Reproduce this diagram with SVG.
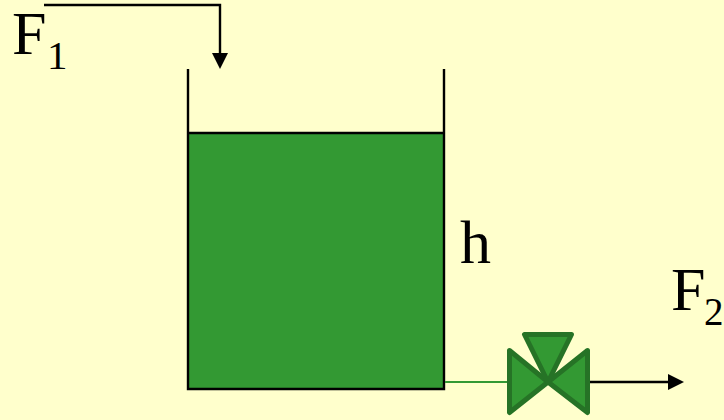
<svg xmlns="http://www.w3.org/2000/svg" width="724" height="420" viewBox="0 0 724 420">
<style>
.t{font-family:"Liberation Serif","Times New Roman",serif;fill:#000}
.m{font-size:62px}.s{font-size:41px}
.l{fill:none;stroke:#000;stroke-width:2.4}
.v{fill:#339933;stroke:#267326;stroke-width:5;stroke-linejoin:round}
</style>
<rect width="724" height="420" fill="#ffffcc"/>
<g id="tank">
<rect x="188" y="133" width="256" height="256" fill="#339933"/>
<path class="l" d="M188 69V389H444V69M188 133H444"/>
</g>
<g id="valve">
<path class="v" d="M509.500 350.500L548 382L509.500 412.500Z"/>
<path class="v" d="M587.500 350.500L548 382L587.500 412.500Z"/>
<path class="v" d="M524.500 334.500H571.500L548 382Z"/>
</g>
<g id="connectors">
<path class="l" d="M44 5H220V54"/>
<path d="M212 53H228L220 69Z"/>
<path d="M445 382H507" fill="none" stroke="#339933" stroke-width="2"/>
<path class="l" d="M590 382H669"/>
<path d="M668 374V390L684 382Z"/>
</g>
<g id="F1"><text class="t m" x="12" y="54">F</text><text class="t s" x="47" y="69">1</text></g>
<g id="h"><text class="t m" x="460" y="263">h</text></g>
<g id="F2"><text class="t m" x="671" y="310">F</text><text class="t" style="font-size:39px" x="704" y="325">2</text></g>
</svg>
